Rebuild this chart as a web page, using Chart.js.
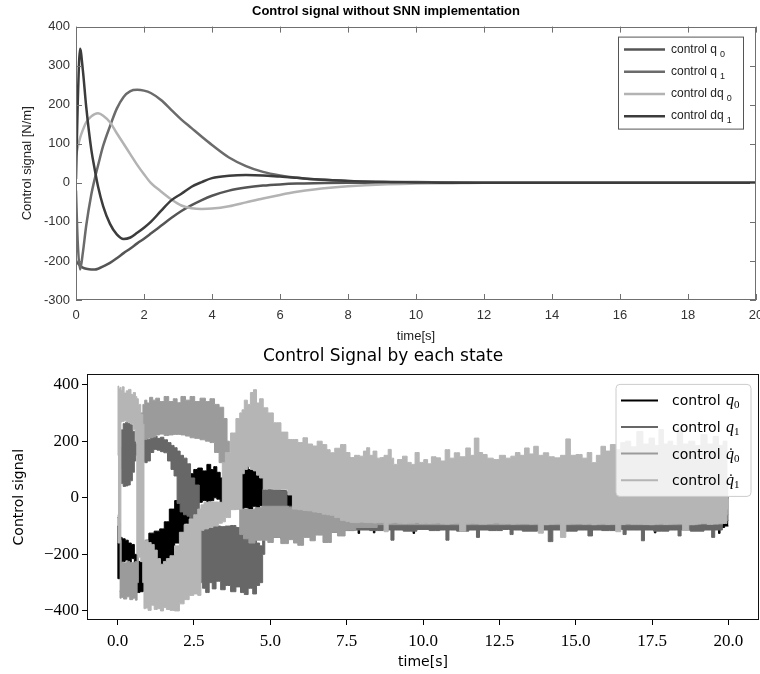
<!DOCTYPE html>
<html><head><meta charset="utf-8">
<script src="https://cdn.jsdelivr.net/npm/chart.js@4.4.1/dist/chart.umd.min.js"></script>
<style>
html,body{margin:0;padding:0;background:#fff;width:760px;height:674px;overflow:hidden;}
#c1{position:absolute;left:0;top:0;}
#c2{position:absolute;left:0;top:344px;}
</style></head><body>
<canvas id="c1" width="760" height="344"></canvas>
<canvas id="c2" width="760" height="330"></canvas>
<script>
// ---------- TOP CHART DATA (smooth controller, no SNN) ----------
const topTitle = 'Control signal without SNN implementation';
const topTime = [0,0.05,0.12,0.2,0.3,0.45,0.55,0.65,0.8,1.0,1.2,1.4,1.6,1.8,2.0,2.2,2.5,2.8,3.1,3.4,3.7,4.0,4.5,5.0,5.5,6.0,6.5,7.0,8.0,9.0,10,11,12,14,16,18,20];
const topQ0  = [-200,-205,-212,-217,-220,-222,-222,-220,-214,-205,-193,-180,-168,-155,-143,-130,-110,-90,-72,-57,-44,-33,-20,-12,-7,-4,-2,-1,0,0,0,0,0,0,0,0,0];
const topQ1  = [-20,-150,-222,-180,-110,-30,10,45,95,145,190,220,235,238,236,230,212,187,162,140,118,97,65,43,28,19,13,9,5,3,2,1,0,0,0,0,0];
const topDq0 = [70,90,115,135,155,170,176,178,172,155,127,100,73,46,22,0,-22,-42,-58,-65,-67,-66,-60,-50,-40,-31,-23,-17,-9,-4,-2,-1,0,0,0,0,0];
const topDq1 = [10,200,343,290,195,85,35,-10,-60,-105,-132,-144,-140,-128,-115,-100,-72,-45,-28,-10,2,12,18,20,19,16,13,9,5,2,1,0,0,0,0,0,0];
const topLabels = ['control q0','control q1','control dq0','control dq1'];
const topLegendBase = ['control q','control q','control dq','control dq'];
const topLegendSub = ['0','1','0','1'];
const topXTicks = [0,2,4,6,8,10,12,14,16,18,20];
const topYTicks = [-300,-200,-100,0,100,200,300,400];

// ---------- BOTTOM CHART DATA (SNN, envelope of each noisy signal: low / high) ----------
const botTitle = 'Control Signal by each state';
const tQ0  = [0.00,0.02,0.06,0.10,0.20,0.30,0.40,0.50,0.60,0.68,0.78,0.88,0.95,1.10,1.30,1.46,1.60,1.79,1.95,2.11,2.25,2.44,2.55,2.70,2.85,3.00,3.10,3.20,3.30,3.42,3.60,3.80,4.00,4.07,4.20,4.35,4.50,4.60,4.70,4.84,
  5.00,6.00,7.85,7.90,7.95,8.35,8.40,8.45,9.65,9.70,9.75,12.0,14.0,16.0,17.55,17.60,17.65,19.65,19.70,19.75,20.0];
const loQ0 = [-100,-286,-286,-228,-225,-220,-228,-215,-300,-335,-332,-330,-200,-175,-220,-235,-225,-205,-160,-122,-90,-40,-16,-16,-10,-16,-10,0,-5,-16,-30,-35,-38,-40,-35,-40,-30,-40,-28,-30,
  -60,-110,-105,-126,-105,-105,-124,-105,-105,-126,-105,-105,-105,-105,-105,-124,-105,-105,-126,-105,-100];
const hiQ0 = [-70,-70,-90,-140,-145,-150,-160,-165,-200,-225,-228,-230,-150,-125,-118,-110,-85,-40,-10,15,50,85,100,105,95,118,100,110,90,70,40,40,60,89,112,100,95,85,70,30,
  25,20,20,20,20,20,20,20,20,20,20,20,20,20,20,20,20,20,20,20,0];

const tQ1  = [0.10,0.15,0.22,0.30,0.38,0.45,0.52,0.58,0.62,0.70,0.86,0.92,1.02,1.13,1.24,1.35,1.46,1.57,1.70,1.80,1.90,2.00,2.10,2.22,2.33,2.45,2.60,2.75,2.82,2.95,3.05,3.15,3.30,3.45,3.60,3.80,3.95,4.10,4.20,4.35,4.50,4.60,4.70,4.80,4.84,5.20,5.49,5.60,
  6.00,6.50,7.00,7.50,8.00,8.50,8.90,9.00,9.10,9.60,10.0,10.4,10.7,10.8,10.9,11.3,11.7,11.8,11.9,12.4,12.8,12.9,13.0,13.5,14.0,14.2,14.3,14.8,15.3,15.5,15.6,16.1,16.5,16.6,16.7,17.1,17.2,17.3,17.8,18.3,18.4,18.5,19.0,19.4,19.5,19.6,20.0];
const loQ1 = [100,50,40,42,45,60,90,130,150,150,130,124,130,160,171,168,163,159,130,100,77,-20,-50,-60,-65,-75,-80,-300,-320,-335,-300,-322,-295,-325,-310,-332,-315,-335,-342,-320,-340,-310,-300,-200,-140,-140,-145,-130,
  -125,-118,-122,-116,-114,-116,-114,-150,-114,-118,-112,-116,-114,-150,-114,-118,-114,-140,-114,-116,-112,-130,-114,-118,-114,-155,-114,-118,-114,-135,-114,-116,-112,-130,-114,-114,-152,-114,-118,-114,-135,-114,-118,-114,-140,-114,-80];
const hiQ1 = [180,240,262,266,262,258,235,200,190,250,212,215,206,212,218,210,214,205,195,185,177,165,150,140,120,70,45,-60,-110,-108,-105,-100,-100,-102,-100,-98,-105,-110,-115,-135,-150,-160,-170,30,30,28,25,-30,
  -40,-40,-40,-40,-40,-40,-40,-40,-40,-40,-40,-40,-40,-40,-40,-40,-40,-40,-40,-40,-40,-40,-40,-40,-40,-40,-40,-40,-40,-40,-40,-40,-40,-40,-40,-40,-40,-40,-40,-40,-40,-40,-40,-40,-40,-40,0];

const tQd0  = [0.06,0.10,0.14,0.25,0.35,0.45,0.55,0.62,0.66,0.70,0.80,0.86,0.92,1.00,1.10,1.20,1.30,1.45,1.60,1.75,1.90,2.00,2.15,2.30,2.45,2.60,2.80,2.95,3.10,3.25,3.40,3.55,3.62,3.70,3.95,4.05,4.20,4.40,4.60,4.84,5.00,5.20,5.49,5.70,5.82,5.98,6.20,6.40,6.55,6.90,7.10,7.30,7.60,8.00,9.00,10.0,12.0,14.0,16.0,18.0,20.0];
const loQd0 = [-330,-355,-352,-358,-350,-360,-355,-362,-300,-190,150,206,206,210,212,215,222,225,220,222,224,224,222,218,212,210,205,200,195,160,124,124,60,-35,-40,-130,-145,-160,-150,-150,-158,-140,-162,-148,-160,-168,-140,-152,-132,-158,-122,-135,-115,-105,-95,-95,-95,-95,-95,-95,-60];
const hiQd0 = [-100,-150,-228,-230,-225,-230,-228,-225,-200,100,300,330,345,335,355,345,352,340,358,340,350,336,358,345,358,340,352,340,350,330,320,280,200,60,10,-40,-40,-42,-35,-30,-30,-30,-30,-35,-40,-40,-40,-40,-40,-40,-45,-50,-50,-50,-50,-50,-50,-50,-50,-50,0];

const tQd1  = [0.01,0.02,0.06,0.10,0.12,0.18,0.25,0.32,0.40,0.48,0.55,0.62,0.64,0.72,0.80,0.85,0.88,0.95,1.05,1.15,1.25,1.35,1.46,1.55,1.65,1.79,1.94,2.11,2.25,2.44,2.55,2.70,2.76,2.90,3.05,3.20,3.40,3.46,3.60,3.80,3.95,4.05,4.10,4.20,4.30,4.40,4.50,4.60,4.70,4.84,5.00,5.20,5.50,5.65,
  5.80,6.00,6.14,6.30,6.47,6.60,6.80,6.90,7.02,7.20,7.40,7.55,7.67,7.85,8.00,8.10,8.21,8.30,8.43,8.55,8.65,8.80,8.92,9.00,9.08,9.25,9.41,9.55,9.68,9.80,9.95,
  10.1,10.2,10.35,10.5,10.65,10.8,10.95,11.1,11.3,11.5,11.6,11.76,11.9,12.0,12.2,12.4,12.6,12.8,12.95,13.1,13.25,13.4,13.55,13.7,13.85,14.03,14.2,14.4,14.6,14.75,14.9,
  15.12,15.3,15.45,15.6,15.75,15.9,16.05,16.22,16.4,16.55,16.7,16.9,17.1,17.3,17.5,17.65,17.8,17.95,18.1,18.25,18.4,18.6,18.8,19.0,19.2,19.4,19.6,19.75,19.9,20.0];
const loQd1 = [-60,-160,-160,-150,268,270,272,268,266,262,240,200,-200,-210,-225,-300,-392,-390,-398,-380,-395,-392,-400,-388,-395,-398,-400,-375,-360,-345,-340,-345,-115,-110,-105,-100,-90,-85,-70,-42,-40,-40,85,100,110,100,95,80,70,30,32,30,30,10,
  -40,-42,-45,-46,-50,-52,-58,-60,-62,-70,-80,-84,-87,-88,-86,-87,-88,-88,-89,-88,-88,-120,-90,-89,-88,-90,-91,-90,-90,-88,-91,
  -90,-91,-90,-89,-92,-93,-91,-90,-118,-92,-90,-91,-93,-93,-91,-89,-92,-91,-93,-92,-91,-91,-93,-92,-125,-95,-93,-92,-140,-93,-92,
  -91,-93,-92,-95,-93,-92,-94,-93,-120,-94,-91,-93,-93,-94,-95,-93,-92,-94,-93,-92,-91,-115,-95,-93,-92,-94,-93,-92,-91,-40];
const hiQd1 = [150,395,385,390,380,392,370,378,383,365,372,358,350,330,295,260,-150,-150,-158,-165,-185,-215,-235,-225,-215,-205,-170,-122,-95,-75,-60,-40,-25,-16,-14,-15,-16,124,160,229,280,300,311,345,330,372,382,335,350,318,300,265,232,206,
  206,195,212,190,183,200,188,170,159,175,188,160,142,150,147,165,177,150,165,140,142,150,171,140,118,135,147,125,118,160,125,
  135,120,145,141,130,170,140,159,145,176,150,211,160,153,140,135,150,140,147,160,150,176,155,182,150,159,145,141,150,208,150,
  153,140,160,124,150,182,165,188,170,195,200,180,234,190,211,185,241,190,200,185,246,190,200,185,223,190,217,185,200,60];

const botLabels = ['control q0','control q1','control q\u03070','control q\u03071'];
const botLegendSub = ['0','1','0','1'];
const botLegendDot = [false,false,true,true];
const botXTicks = [0,2.5,5,7.5,10,12.5,15,17.5,20];
const botYTicks = [-400,-200,0,200,400];

// ---------- helpers ----------
function xy(t, v){ const n = Math.min(t.length, v.length); const out=[]; for(let i=0;i<n;i++) out.push({x:t[i], y:v[i]}); return out; }

const SANS_TOP = '"Liberation Sans", Arial, sans-serif';
const SANS_BOT = '"DejaVu Sans", sans-serif';
const SERIF_BOT = '"Liberation Serif", "DejaVu Serif", serif';

// ---------- TOP CHART ----------
const topColors = ['#555555','#6b6b6b','#b3b3b3','#3c3c3c'];
const topSeries = [topQ0, topQ1, topDq0, topDq1];
const matlabPlugin = {
  id:'matlabBox',
  afterDraw(chart){
    const {ctx, chartArea:a, scales:{x,y}} = chart;
    ctx.save();
    ctx.strokeStyle='#707070'; ctx.lineWidth=1;
    ctx.strokeRect(Math.round(a.left)+0.5, Math.round(a.top)+0.5, Math.round(a.right-a.left)-1, Math.round(a.bottom-a.top)-1);
    const L=6;
    ctx.beginPath();
    x.ticks.forEach(t=>{ const p=Math.round(x.getPixelForValue(t.value))+0.5; ctx.moveTo(p,a.bottom); ctx.lineTo(p,a.bottom-L); ctx.moveTo(p,a.top); ctx.lineTo(p,a.top+L); });
    y.ticks.forEach(t=>{ const p=Math.round(y.getPixelForValue(t.value))+0.5; ctx.moveTo(a.left,p); ctx.lineTo(a.left+L,p); ctx.moveTo(a.right,p); ctx.lineTo(a.right-L,p); });
    ctx.stroke();
    // legend
    const bx = a.right-138, by = a.top+10, bw = 125, bh = 92;
    ctx.fillStyle='#fff'; ctx.fillRect(bx,by,bw,bh);
    ctx.strokeStyle='#555'; ctx.strokeRect(bx+0.5,by+0.5,bw,bh);
    chart.data.datasets.forEach((ds,i)=>{
      const yy = by + 13 + i*22.2;
      ctx.strokeStyle = ds.borderColor; ctx.lineWidth=2.5;
      ctx.beginPath(); ctx.moveTo(bx+6,yy); ctx.lineTo(bx+47,yy); ctx.stroke();
      ctx.fillStyle='#222'; ctx.textBaseline='alphabetic'; ctx.textAlign='left';
      ctx.font = '12px '+SANS_TOP;
      const base = topLegendBase[i];
      ctx.fillText(base, bx+53, yy+3);
      const w = ctx.measureText(base).width;
      ctx.font = '9px '+SANS_TOP;
      ctx.fillText(topLegendSub[i], bx+53+w+3, yy+7);
    });
    ctx.restore();
  }
};
new Chart(document.getElementById('c1'), {
  type:'line',
  data:{ datasets: topSeries.map((s,i)=>({
    label: topLabels[i], data: xy(topTime, s), borderColor: topColors[i], backgroundColor: topColors[i],
    borderWidth: 2.5, pointRadius: 0, fill:false, cubicInterpolationMode:'monotone', order: 4-i
  }))},
  options:{
    responsive:false, animation:false, devicePixelRatio:1,
    layout:{padding:{left:16,right:4,top:0,bottom:0}},
    plugins:{ legend:{display:false}, tooltip:{enabled:false},
      title:{display:true, text: topTitle, color:'#000', font:{family:SANS_TOP, size:13, weight:'bold'}, padding:{top:4,bottom:7}} },
    scales:{
      x:{ type:'linear', min:0, max:20,
        afterBuildTicks:s=>{ s.ticks = topXTicks.map(v=>({value:v})); },
        ticks:{ font:{family:SANS_TOP,size:13}, color:'#333', padding:8, maxRotation:0, autoSkip:false },
        grid:{ display:false, drawTicks:false }, border:{display:false},
        title:{ display:true, text:'time[s]', color:'#222', font:{family:SANS_TOP,size:13}, padding:{top:0,bottom:0} },
        afterFit:s=>{ s.height=44; s.paddingLeft=0; s.paddingRight=0; } },
      y:{ type:'linear', min:-300, max:400,
        afterBuildTicks:s=>{ s.ticks = topYTicks.map(v=>({value:v})); },
        ticks:{ font:{family:SANS_TOP,size:13}, color:'#333', padding:6, autoSkip:false },
        grid:{ display:false, drawTicks:false }, border:{display:false},
        title:{ display:true, text:'Control signal [N/m]', color:'#222', font:{family:SANS_TOP,size:13}, padding:{top:4,bottom:4} },
        afterFit:s=>{ s.width=60; s.paddingTop=0; s.paddingBottom=0; } }
    }
  },
  plugins:[matlabPlugin]
});

// ---------- BOTTOM CHART ----------
const botSeries = [
  {t:tQ0, lo:loQ0, hi:hiQ0, color:'#000000', order:40},
  {t:tQ1, lo:loQ1, hi:hiQ1, color:'#676767', order:30},
  {t:tQd0, lo:loQd0, hi:hiQd0, color:'#9b9b9b', order:20},
  {t:tQd1, lo:loQd1, hi:hiQd1, color:'#b5b5b5', order:10}
];
const botLegendColors = ['#000000','#676767','#9b9b9b','#b5b5b5'];
const botDatasets = [];
botSeries.forEach((s,i)=>{
  botDatasets.push({ label: botLabels[i]+' (low)', data: xy(s.t, s.lo), borderColor:s.color, backgroundColor:s.color,
    borderWidth:1, pointRadius:0, fill:false, stepped:'middle', order:s.order });
  botDatasets.push({ label: botLabels[i], data: xy(s.t, s.hi), borderColor:s.color, backgroundColor:s.color,
    borderWidth:1, pointRadius:0, fill:'-1', stepped:'middle', order:s.order });
});
const mplPlugin = {
  id:'mplFrame',
  afterDraw(chart){
    const {ctx, chartArea:a} = chart;
    ctx.save();
    ctx.strokeStyle='#111'; ctx.lineWidth=1;
    ctx.strokeRect(Math.round(a.left)+0.5, Math.round(a.top)+0.5, Math.round(a.right-a.left)-1, Math.round(a.bottom-a.top)-1);
    // legend
    const bx = a.right-143, by = a.top+10, bw = 135, bh = 112, r = 4;
    ctx.beginPath();
    ctx.moveTo(bx+r,by); ctx.lineTo(bx+bw-r,by); ctx.quadraticCurveTo(bx+bw,by,bx+bw,by+r);
    ctx.lineTo(bx+bw,by+bh-r); ctx.quadraticCurveTo(bx+bw,by+bh,bx+bw-r,by+bh);
    ctx.lineTo(bx+r,by+bh); ctx.quadraticCurveTo(bx,by+bh,bx,by+bh-r);
    ctx.lineTo(bx,by+r); ctx.quadraticCurveTo(bx,by,bx+r,by); ctx.closePath();
    ctx.fillStyle='rgba(255,255,255,0.8)'; ctx.fill();
    ctx.strokeStyle='#cccccc'; ctx.stroke();
    for(let i=0;i<4;i++){
      const yy = by + 16 + i*26.6;
      ctx.strokeStyle = botLegendColors[i]; ctx.lineWidth=2;
      ctx.beginPath(); ctx.moveTo(bx+5,yy); ctx.lineTo(bx+42,yy); ctx.stroke();
      ctx.fillStyle='#000'; ctx.textAlign='left'; ctx.textBaseline='alphabetic';
      ctx.font = '14px '+SANS_BOT;
      const base='control ';
      ctx.fillText(base, bx+56, yy+5);
      let x = bx+56+ctx.measureText(base).width+1;
      ctx.font = 'italic 16px '+SERIF_BOT;
      ctx.fillText('q', x, yy+5);
      const qw = ctx.measureText('q').width;
      if(botLegendDot[i]){
        ctx.font='16px '+SERIF_BOT;
        const dw = ctx.measureText('\u02D9').width;
        ctx.fillText('\u02D9', x + qw/2 - dw/2 + 1, yy+5);
      }
      ctx.font = '11px '+SERIF_BOT;
      ctx.fillText(botLegendSub[i], x+qw, yy+8);
    }
    ctx.restore();
  }
};
new Chart(document.getElementById('c2'), {
  type:'line',
  data:{ datasets: botDatasets },
  options:{
    responsive:false, animation:false, devicePixelRatio:1,
    layout:{padding:{left:7,right:1,top:0,bottom:0}},
    plugins:{ legend:{display:false}, tooltip:{enabled:false},
      title:{display:true, text: botTitle, color:'#000', font:{family:SANS_BOT, size:17, weight:'normal'}, padding:{top:2,bottom:8}} },
    scales:{
      x:{ type:'linear', min:-1, max:21,
        afterBuildTicks:s=>{ s.ticks = botXTicks.map(v=>({value:v})); },
        ticks:{ callback:v=>Number(v).toFixed(1), font:{family:SERIF_BOT,size:17}, color:'#000', padding:6, maxRotation:0, autoSkip:false },
        grid:{ drawOnChartArea:false, drawTicks:true, tickLength:5, color:'#000', lineWidth:1 }, border:{display:false},
        title:{ display:true, text:'time[s]', color:'#000', font:{family:SANS_BOT,size:14}, padding:{top:0,bottom:3} },
        afterFit:s=>{ s.height=54; s.paddingLeft=0; s.paddingRight=0; } },
      y:{ type:'linear', min:-432, max:436,
        afterBuildTicks:s=>{ s.ticks = botYTicks.map(v=>({value:v})); },
        ticks:{ callback:v=> v<0 ? '\u2212'+Math.abs(v) : String(v), font:{family:SERIF_BOT,size:17}, color:'#000', padding:3, autoSkip:false },
        grid:{ drawOnChartArea:false, drawTicks:true, tickLength:5, color:'#000', lineWidth:1 }, border:{display:false},
        title:{ display:true, text:'Control signal', color:'#000', font:{family:SANS_BOT,size:14}, padding:{top:4,bottom:4} },
        afterFit:s=>{ s.width=80; s.paddingTop=0; s.paddingBottom=0; } }
    }
  },
  plugins:[mplPlugin]
});
</script>
</body></html>
